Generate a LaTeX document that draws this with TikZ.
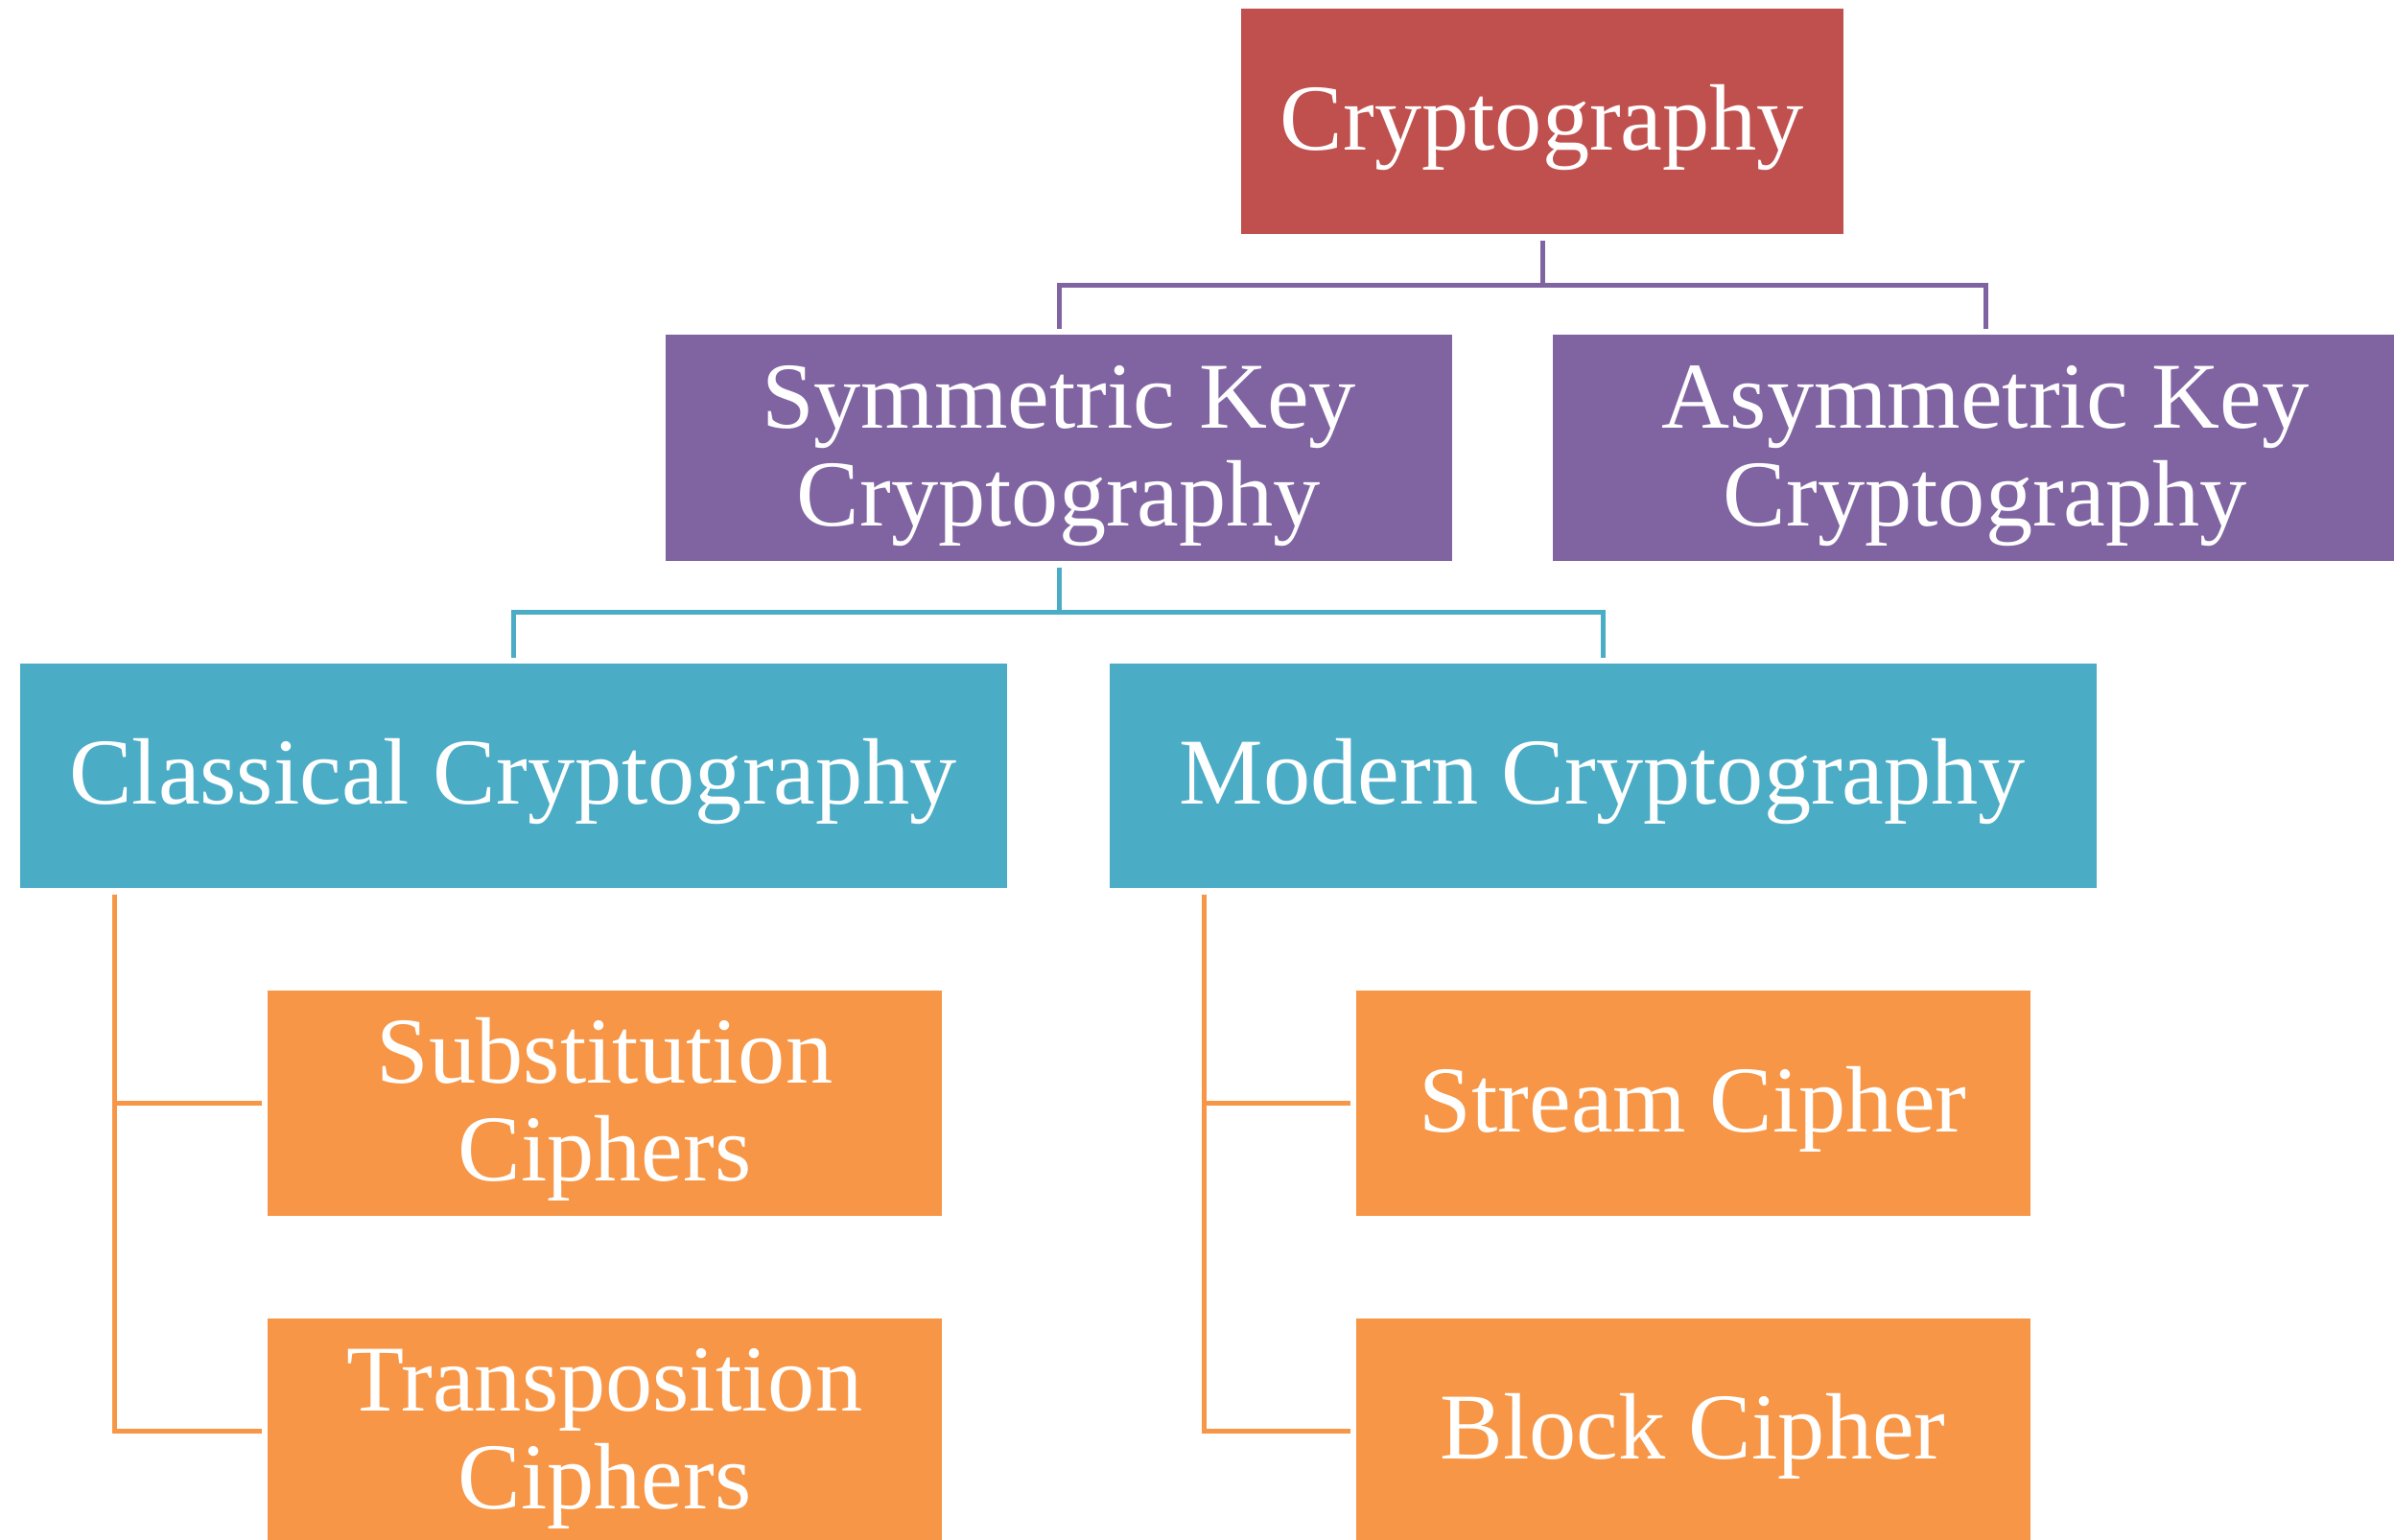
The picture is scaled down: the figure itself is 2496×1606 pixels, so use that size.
\documentclass[tikz,border=0pt]{standalone}
\usepackage{fontspec}
\setmainfont{Liberation Serif}
\begin{document}
\begin{tikzpicture}[x=0.3pt,y=-0.3pt,
  box/.style={rectangle, inner sep=0pt, align=center, text=white,
    font=\fontsize{29.5pt}{30.6pt}\selectfont,
    text height=24.5pt, text depth=6.6pt},
  twoline/.style={text height=55.5pt},
  rootbox/.style={box, fill=rootred, minimum width=628*0.3pt, minimum height=235*0.3pt},
  keybox/.style={box, twoline, fill=keypurple, minimum height=236*0.3pt},
  erabox/.style={box, fill=erablue, minimum width=1029*0.3pt, minimum height=234*0.3pt},
  cipherbox/.style={box, fill=cipherorange, minimum width=703*0.3pt, minimum height=235*0.3pt},
  conn/.style={line width=1.5pt},
  gapstart/.style={shorten <=1.8pt},
  gapend/.style={shorten >=1.5pt}
]
\definecolor{rootred}{HTML}{C0504D}
\definecolor{keypurple}{HTML}{8064A2}
\definecolor{erablue}{HTML}{4BACC6}
\definecolor{cipherorange}{HTML}{F79646}

\useasboundingbox (0,0) rectangle (2496,1606);
\clip (0,0) rectangle (2496,1606);

% level 1
\node[rootbox] (crypt) at (1608,126.5) {Cryptography};

% level 2
\node[keybox, minimum width=820*0.3pt] (sym) at (1104,467) {Symmetric Key\\Cryptography};
\node[keybox, minimum width=902*0.3pt] (asym) at (2070,467) {Asymmetric Key\\Cryptography};

% level 3
\node[erabox] (classical) at (535,809) {Classical Cryptography};
\node[erabox] (modern) at (1671,809) {Modern Cryptography};

% level 4
\node[cipherbox, twoline] (subst) at (630.5,1150.5) {Substitution\\Ciphers};
\node[cipherbox, twoline] (trans) at (630.5,1492) {Transposition\\Ciphers};
\node[cipherbox] (stream) at (1765,1150.5) {Stream Cipher};
\node[cipherbox] (block) at (1765,1492) {Block Cipher};

% bus lines
\coordinate (busA) at (0,298);
\coordinate (busB) at (0,639);
\draw[conn, gapstart, gapend, keypurple] (crypt.south) -- (crypt.south |- busA) -| (sym.north);
\draw[conn, gapend, keypurple] (crypt.south |- busA) -| (asym.north);
\draw[conn, gapstart, gapend, erablue] (sym.south) -- (sym.south |- busB) -| (classical.north);
\draw[conn, gapend, erablue] (sym.south |- busB) -| (modern.north);

% trunks to the cipher boxes
\coordinate (cltrunk) at ([xshift=100*0.3pt]classical.south west);
\coordinate (motrunk) at ([xshift=100*0.3pt]modern.south west);
\draw[conn, gapstart, gapend, cipherorange] (cltrunk) |- (trans.west);
\draw[conn, gapend, cipherorange] (cltrunk |- subst.west) -- (subst.west);
\draw[conn, gapstart, gapend, cipherorange] (motrunk) |- (block.west);
\draw[conn, gapend, cipherorange] (motrunk |- stream.west) -- (stream.west);
\end{tikzpicture}
\end{document}
